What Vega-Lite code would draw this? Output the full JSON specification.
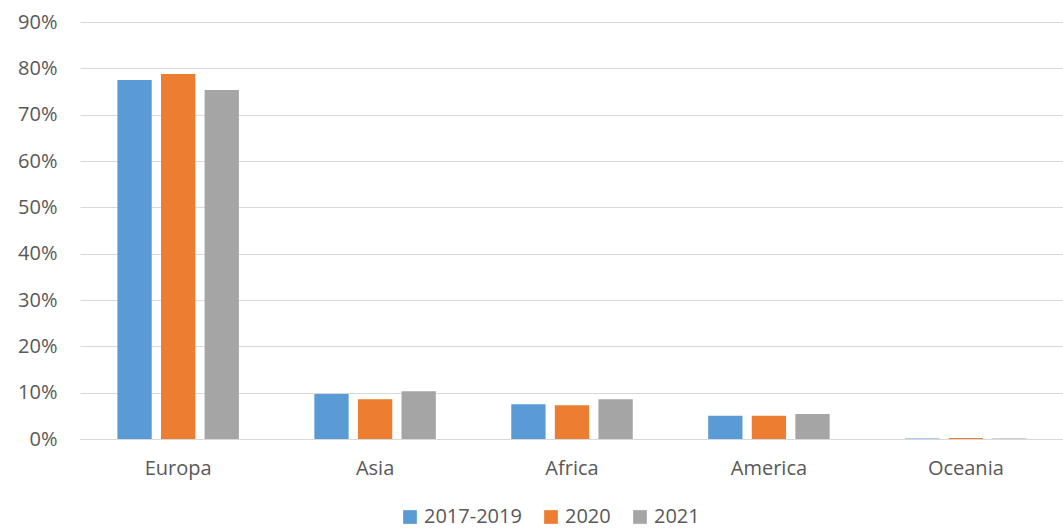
{
  "$schema": "https://vega.github.io/schema/vega-lite/v6.json",
  "autosize": {"type": "none"},
  "width": 984,
  "height": 417,
  "padding": {"left": 80, "top": 22, "right": 0, "bottom": 92},
  "background": "white",
  "config": {
    "font": "Open Sans",
    "view": {"stroke": null}
  },
  "data": {
    "values": [
      {"region": "Europa", "period": "2017-2019", "share": 0.775},
      {"region": "Europa", "period": "2020", "share": 0.788},
      {"region": "Europa", "period": "2021", "share": 0.753},
      {"region": "Asia", "period": "2017-2019", "share": 0.097},
      {"region": "Asia", "period": "2020", "share": 0.086},
      {"region": "Asia", "period": "2021", "share": 0.103},
      {"region": "Africa", "period": "2017-2019", "share": 0.075},
      {"region": "Africa", "period": "2020", "share": 0.073},
      {"region": "Africa", "period": "2021", "share": 0.086},
      {"region": "America", "period": "2017-2019", "share": 0.050},
      {"region": "America", "period": "2020", "share": 0.050},
      {"region": "America", "period": "2021", "share": 0.054},
      {"region": "Oceania", "period": "2017-2019", "share": 0.001},
      {"region": "Oceania", "period": "2020", "share": 0.002},
      {"region": "Oceania", "period": "2021", "share": 0.001}
    ]
  },
  "mark": {"type": "bar"},
  "encoding": {
    "x": {
      "field": "region",
      "type": "nominal",
      "sort": ["Europa", "Asia", "Africa", "America", "Oceania"],
      "scale": {"paddingInner": 0.383, "paddingOuter": 0.19},
      "axis": {
        "title": null,
        "labelAngle": 0,
        "ticks": false,
        "domainColor": "#D9D9D9",
        "domainWidth": 1,
        "labelFontSize": 20,
        "labelColor": "#595959",
        "labelPadding": 19
      }
    },
    "xOffset": {
      "field": "period",
      "type": "nominal",
      "scale": {"paddingInner": 0.213}
    },
    "y": {
      "field": "share",
      "type": "quantitative",
      "scale": {"domain": [0, 0.9]},
      "axis": {
        "title": null,
        "format": ".0%",
        "values": [0, 0.1, 0.2, 0.3, 0.4, 0.5, 0.6, 0.7, 0.8, 0.9],
        "domain": false,
        "ticks": false,
        "gridColor": "#D9D9D9",
        "gridWidth": 1,
        "labelFontSize": 20,
        "labelColor": "#595959",
        "labelPadding": 23
      }
    },
    "color": {
      "field": "period",
      "type": "nominal",
      "scale": {"domain": ["2017-2019", "2020", "2021"], "range": ["#5B9BD5", "#ED7D31", "#A5A5A5"]},
      "legend": {
        "title": null,
        "orient": "none",
        "direction": "horizontal",
        "legendX": 320,
        "legendY": 485,
        "symbolType": "square",
        "symbolSize": 188,
        "symbolStrokeWidth": 0,
        "labelFontSize": 20,
        "labelColor": "#595959",
        "columnPadding": 19,
        "labelOffset": 4
      }
    }
  }
}
